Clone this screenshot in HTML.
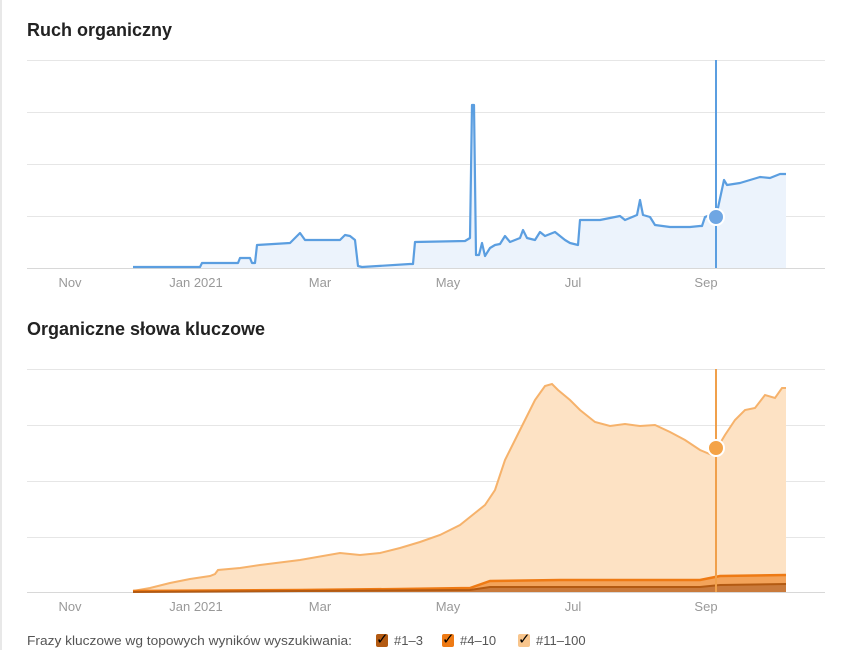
<!DOCTYPE html>
<html><head><meta charset="utf-8"><style>
body{margin:0;background:#fff;width:848px;height:666px;overflow:hidden;font-family:"Liberation Sans",sans-serif}
</style></head><body>
<svg width="848" height="666" xmlns="http://www.w3.org/2000/svg" font-family="Liberation Sans, sans-serif">
<rect x="0" y="0" width="2" height="650" fill="#e8e8e8"/>
<text x="27" y="36" font-size="18" font-weight="bold" fill="#222">Ruch organiczny</text>
<g stroke="#e6e6e6" stroke-width="1">
<line x1="27" y1="60.5" x2="825" y2="60.5"/><line x1="27" y1="112.5" x2="825" y2="112.5"/><line x1="27" y1="164.5" x2="825" y2="164.5"/><line x1="27" y1="216.5" x2="825" y2="216.5"/><line x1="27" y1="268.5" x2="825" y2="268.5" stroke="#d8d8d8"/>
</g>
<g font-size="13" fill="#999" text-anchor="middle">
<text x="70" y="287">Nov</text><text x="196" y="287">Jan 2021</text><text x="320" y="287">Mar</text><text x="448" y="287">May</text><text x="573" y="287">Jul</text><text x="706" y="287">Sep</text>
</g>
<polygon fill="#ecf3fc" points="133,268 133,267 200,267 202,263 238,263 240,258 250,258 252,263 255,263 257,245 290,243 300,233 305,240 340,240 345,235 350,236 355,240 358,266 362,267 410,264 413,264 415,242 465,241 470,238 472,105 474,105 476,255 479,255 482,243 485,256 490,248 495,245 500,244 505,236 510,242 520,238 523,230 527,238 535,240 540,232 545,236 555,232 565,240 570,243 578,245 580,220 600,220 610,218 620,216 625,220 637,215 640,200 643,215 650,217 655,225 670,227 690,227 700,226 702,226 705,217 710,215 716,217 724,180 727,185 740,183 750,180 760,177 770,178 780,174 786,174 786,268"/>
<polyline fill="none" stroke="#5b9ee0" stroke-width="2.2" stroke-linejoin="round" points="133,267 200,267 202,263 238,263 240,258 250,258 252,263 255,263 257,245 290,243 300,233 305,240 340,240 345,235 350,236 355,240 358,266 362,267 410,264 413,264 415,242 465,241 470,238 472,105 474,105 476,255 479,255 482,243 485,256 490,248 495,245 500,244 505,236 510,242 520,238 523,230 527,238 535,240 540,232 545,236 555,232 565,240 570,243 578,245 580,220 600,220 610,218 620,216 625,220 637,215 640,200 643,215 650,217 655,225 670,227 690,227 700,226 702,226 705,217 710,215 716,217 724,180 727,185 740,183 750,180 760,177 770,178 780,174 786,174"/>
<line x1="716" y1="60" x2="716" y2="268" stroke="#5b9ee0" stroke-width="2"/>
<circle cx="716" cy="217" r="8" fill="#6fa6e3" stroke="#fff" stroke-width="2"/>

<text x="27" y="335" font-size="18" font-weight="bold" fill="#222">Organiczne słowa kluczowe</text>
<g stroke="#e6e6e6" stroke-width="1">
<line x1="27" y1="369.5" x2="825" y2="369.5"/><line x1="27" y1="425.5" x2="825" y2="425.5"/><line x1="27" y1="481.5" x2="825" y2="481.5"/><line x1="27" y1="537.5" x2="825" y2="537.5"/><line x1="27" y1="592.5" x2="825" y2="592.5" stroke="#d8d8d8"/>
</g>
<g font-size="13" fill="#999" text-anchor="middle">
<text x="70" y="611">Nov</text><text x="196" y="611">Jan 2021</text><text x="320" y="611">Mar</text><text x="448" y="611">May</text><text x="573" y="611">Jul</text><text x="706" y="611">Sep</text>
</g>
<polygon fill="#fde2c4" points="133,592 133,591 150,588 170,583 190,579 210,576 215,574 218,570 240,568 260,565 300,560 340,553 360,555 380,553 400,548 420,542 440,535 460,525 475,513 485,505 495,490 505,460 515,440 525,420 535,400 545,386 552,384 558,390 570,400 580,410 595,422 610,426 625,424 640,426 655,425 670,432 685,440 700,450 712,455 716,450 725,435 735,420 745,410 755,408 765,395 775,398 782,388 786,388 786,592"/>
<polyline fill="none" stroke="#f6b26b" stroke-width="2" points="133,591 150,588 170,583 190,579 210,576 215,574 218,570 240,568 260,565 300,560 340,553 360,555 380,553 400,548 420,542 440,535 460,525 475,513 485,505 495,490 505,460 515,440 525,420 535,400 545,386 552,384 558,390 570,400 580,410 595,422 610,426 625,424 640,426 655,425 670,432 685,440 700,450 712,455 716,450 725,435 735,420 745,410 755,408 765,395 775,398 782,388 786,388"/>
<polygon fill="#f3a35a" points="133,592 133,591 300,590 400,589 470,588 490,581 560,580 600,580 700,580 720,576 786,575 786,592"/>
<polyline fill="none" stroke="#ee7a14" stroke-width="2.5" points="133,591 300,590 400,589 470,588 490,581 560,580 600,580 700,580 720,576 786,575"/>
<polygon fill="#c97a3c" points="133,592 300,591 470,590 490,587 600,587 700,587 720,585 786,584 786,592"/>
<polyline fill="none" stroke="#b35a12" stroke-width="2" points="133,592 300,591 470,590 490,587 600,587 700,587 720,585 786,584"/>
<line x1="716" y1="369" x2="716" y2="592" stroke="#f0a04b" stroke-width="2"/>
<circle cx="716" cy="448" r="8" fill="#f4a347" stroke="#fff" stroke-width="2"/>

<text x="27" y="645" font-size="13" fill="#555" textLength="325" lengthAdjust="spacingAndGlyphs">Frazy kluczowe wg topowych wyników wyszukiwania:</text>
<rect x="376" y="634" width="12" height="13" rx="2" fill="#b35a12"/><text x="376" y="644" font-size="15" fill="#000">✓</text>
<text x="394" y="645" font-size="13" fill="#555">#1–3</text>
<rect x="442" y="634" width="12" height="13" rx="2" fill="#ee7a14"/><text x="442" y="644" font-size="15" fill="#000">✓</text>
<text x="460" y="645" font-size="13" fill="#555">#4–10</text>
<rect x="518" y="634" width="12" height="13" rx="2" fill="#f8c58c"/><text x="518" y="644" font-size="15" fill="#000">✓</text>
<text x="536" y="645" font-size="13" fill="#555">#11–100</text>
</svg>
</body></html>
